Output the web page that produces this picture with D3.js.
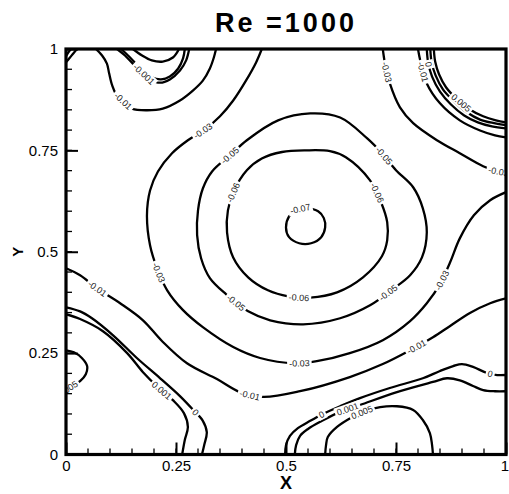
<!DOCTYPE html>
<html><head><meta charset="utf-8">
<script src="https://cdn.jsdelivr.net/npm/d3@7"></script>
<style>
html,body{margin:0;padding:0;background:#fff;}
svg{display:block;font-family:"Liberation Sans", Arial, Helvetica, sans-serif;}
</style></head><body>
<svg id="chart" width="509" height="494"></svg>
<script>
// Stream-function isolines, Re = 1000. Each line is a list of [x, y] points in domain units.
const psiM070 = [[0.543,0.607],[0.573,0.600],[0.586,0.583],[0.589,0.560],[0.580,0.536],[0.557,0.521],[0.530,0.521],[0.507,0.536],[0.500,0.560],[0.507,0.587],[0.523,0.602]];
const psiM060 = [[0.545,0.750],[0.600,0.748],[0.636,0.733],[0.691,0.676],[0.716,0.622],[0.730,0.573],[0.730,0.528],[0.718,0.489],[0.675,0.437],[0.616,0.400],[0.555,0.387],[0.505,0.390],[0.459,0.405],[0.414,0.437],[0.380,0.486],[0.366,0.548],[0.368,0.602],[0.382,0.651],[0.411,0.701],[0.445,0.730],[0.491,0.746]];
const psiM050 = [[0.555,0.841],[0.623,0.831],[0.684,0.780],[0.718,0.743],[0.750,0.701],[0.789,0.659],[0.811,0.607],[0.820,0.548],[0.809,0.486],[0.782,0.442],[0.743,0.408],[0.691,0.368],[0.623,0.336],[0.539,0.321],[0.464,0.331],[0.414,0.353],[0.364,0.395],[0.327,0.435],[0.307,0.484],[0.298,0.541],[0.300,0.602],[0.311,0.656],[0.332,0.698],[0.373,0.738],[0.411,0.775],[0.482,0.824]];
const psiM030a = [[0.445,1.000],[0.432,0.967],[0.409,0.922],[0.380,0.873],[0.350,0.834],[0.316,0.802],[0.277,0.775],[0.241,0.743],[0.209,0.698],[0.191,0.651],[0.184,0.590],[0.191,0.516],[0.207,0.459],[0.230,0.405],[0.266,0.356],[0.311,0.314],[0.380,0.265],[0.441,0.238],[0.520,0.225],[0.570,0.230],[0.645,0.250],[0.720,0.282],[0.782,0.329],[0.820,0.373],[0.850,0.420],[0.873,0.474],[0.895,0.533],[0.927,0.590],[0.964,0.627],[1.000,0.647]];
const psiM030b = [[0.720,1.000],[0.725,0.964],[0.736,0.915],[0.759,0.856],[0.789,0.817],[0.843,0.775],[0.895,0.743],[0.948,0.711],[0.982,0.698],[1.000,0.696]];
const psiM010a = [[0.068,1.000],[0.082,0.984],[0.093,0.964],[0.098,0.940],[0.105,0.910],[0.114,0.888],[0.130,0.871],[0.150,0.853],[0.184,0.849],[0.220,0.853],[0.259,0.873],[0.289,0.898],[0.311,0.922],[0.327,0.952],[0.336,0.979],[0.341,1.000]];
const psiM010b = [[0.800,1.000],[0.805,0.972],[0.820,0.915],[0.850,0.866],[0.895,0.824],[0.941,0.799],[0.975,0.787],[1.000,0.782]];
const psiM010c = [[0.000,0.459],[0.032,0.442],[0.070,0.410],[0.123,0.373],[0.175,0.331],[0.218,0.280],[0.275,0.225],[0.343,0.186],[0.395,0.154],[0.448,0.142],[0.532,0.156],[0.645,0.191],[0.720,0.223],[0.782,0.257],[0.834,0.289],[0.873,0.317],[0.918,0.349],[0.964,0.373],[1.000,0.385]];
const psiM001a = [[0.116,1.000],[0.134,0.984],[0.152,0.964],[0.173,0.942],[0.191,0.925],[0.214,0.917],[0.236,0.925],[0.259,0.947],[0.273,0.972],[0.280,1.000]];
const psiZ000a = [[0.125,1.000],[0.141,0.984],[0.159,0.964],[0.177,0.945],[0.195,0.930],[0.216,0.925],[0.236,0.932],[0.255,0.952],[0.266,0.977],[0.270,1.000]];
const psiP001a = [[0.152,1.000],[0.173,0.984],[0.195,0.972],[0.220,0.969],[0.243,0.979],[0.257,1.000]];
const psiP001b = [[0.000,0.967],[0.009,0.979],[0.018,0.991],[0.025,1.000]];
const psiP005a = [[0.000,0.982],[0.005,0.991],[0.011,1.000]];
const psiZ000b = [[0.000,0.363],[0.032,0.353],[0.059,0.336],[0.107,0.294],[0.161,0.238],[0.214,0.188],[0.259,0.144],[0.289,0.110],[0.311,0.083],[0.320,0.055],[0.314,0.023],[0.309,0.000]];
const psiP001c = [[0.000,0.346],[0.032,0.334],[0.084,0.304],[0.139,0.250],[0.175,0.203],[0.209,0.166],[0.243,0.134],[0.268,0.102],[0.277,0.068],[0.270,0.036],[0.264,0.000]];
const psiP005b = [[0.000,0.257],[0.018,0.252],[0.036,0.238],[0.048,0.218],[0.045,0.198],[0.032,0.181],[0.014,0.169],[0.000,0.159]];
const psiZ000c = [[0.498,0.000],[0.500,0.023],[0.509,0.046],[0.527,0.065],[0.555,0.083],[0.584,0.100],[0.623,0.119],[0.668,0.139],[0.736,0.164],[0.811,0.188],[0.850,0.206],[0.880,0.218],[0.900,0.223],[0.925,0.216],[0.957,0.201],[0.980,0.196],[1.000,0.196]];
const psiP001d = [[0.520,0.000],[0.523,0.023],[0.532,0.046],[0.550,0.063],[0.582,0.083],[0.623,0.105],[0.668,0.122],[0.752,0.154],[0.834,0.179],[0.866,0.188],[0.895,0.183],[0.925,0.169],[0.948,0.159],[0.975,0.156],[1.000,0.156]];
const psiP005c = [[0.589,0.000],[0.591,0.023],[0.595,0.043],[0.616,0.068],[0.650,0.092],[0.680,0.107],[0.714,0.117],[0.752,0.119],[0.789,0.110],[0.811,0.085],[0.827,0.053],[0.832,0.023],[0.834,0.000]];
const psiZ000d = [[0.820,1.000],[0.823,0.967],[0.832,0.932],[0.850,0.895],[0.875,0.863],[0.905,0.836],[0.936,0.819],[0.968,0.809],[1.000,0.804]];
const psiP001e = [[0.828,1.000],[0.831,0.967],[0.840,0.935],[0.857,0.900],[0.882,0.871],[0.911,0.844],[0.941,0.826],[0.973,0.817],[1.000,0.812]];
const psiP005d = [[0.836,1.000],[0.839,0.969],[0.848,0.937],[0.864,0.905],[0.889,0.876],[0.918,0.851],[0.948,0.834],[0.977,0.824],[1.000,0.819]];

// [key, level, points, closed]
const isolines = [
  ["m070a", -0.07, psiM070, true],
  ["m060a", -0.06, psiM060, true],
  ["m050a", -0.05, psiM050, true],
  ["m030a", -0.03, psiM030a, false],
  ["m030b", -0.03, psiM030b, false],
  ["m010a", -0.01, psiM010a, false],
  ["m010b", -0.01, psiM010b, false],
  ["m010c", -0.01, psiM010c, false],
  ["m001a", -0.001, psiM001a, false],
  ["z000a", 0, psiZ000a, false],
  ["p001a", 0.001, psiP001a, false],
  ["p001b", 0.001, psiP001b, false],
  ["p005a", 0.005, psiP005a, false],
  ["z000b", 0, psiZ000b, false],
  ["p001c", 0.001, psiP001c, false],
  ["p005b", 0.005, psiP005b, false],
  ["z000c", 0, psiZ000c, false],
  ["p001d", 0.001, psiP001d, false],
  ["p005c", 0.005, psiP005c, false],
  ["z000d", 0, psiZ000d, false],
  ["p001e", 0.001, psiP001e, false],
  ["p005d", 0.005, psiP005d, false]
];

// Isoline labels: [isoline key, x, y] near where each label sits
const isoLabels = [
  ["m070a", 0.532, 0.607],
  ["m060a", 0.386, 0.644], ["m060a", 0.705, 0.644], ["m060a", 0.530, 0.388],
  ["m050a", 0.375, 0.735], ["m050a", 0.720, 0.735], ["m050a", 0.386, 0.373], ["m050a", 0.730, 0.403],
  ["m030a", 0.311, 0.799], ["m030a", 0.214, 0.450], ["m030a", 0.530, 0.228], ["m030a", 0.859, 0.427],
  ["m030b", 0.727, 0.942], ["m030b", 0.984, 0.701],
  ["m010a", 0.130, 0.871], ["m010b", 0.807, 0.942], ["m010c", 0.070, 0.408], ["m010c", 0.418, 0.147], ["m010c", 0.802, 0.255],
  ["m001a", 0.182, 0.942],
  ["z000b", 0.293, 0.102], ["p001c", 0.220, 0.161], ["p005b", 0.004, 0.161],
  ["z000c", 0.582, 0.097], ["p001d", 0.639, 0.115], ["z000c", 0.964, 0.198], ["p005c", 0.673, 0.102],
  ["z000d", 0.825, 0.962], ["p005d", 0.895, 0.863]
];

const xTicks = [0, 0.25, 0.5, 0.75, 1];
const yTicks = [0, 0.25, 0.5, 0.75, 1];
const minorTicks = d3.range(0, 1.0001, 0.05);
const titleText = "Re =1000";
const xTitle = "X", yTitle = "Y";

(function draw() {
  const frameL = 66, frameR = 506, frameT = 49, frameB = 454.5;
  const svg = d3.select("#chart");
  const x = d3.scaleLinear().domain([0, 1]).range([frameL, frameR]);
  const y = d3.scaleLinear().domain([0, 1]).range([frameB, frameT]);

  svg.append("defs").append("clipPath").attr("id", "plotClip")
    .append("rect").attr("x", frameL).attr("y", frameT).attr("width", frameR - frameL).attr("height", frameB - frameT);

  const plot = svg.append("g").attr("clip-path", "url(#plotClip)");

  const openLine = d3.line().x(d => x(d[0])).y(d => y(d[1])).curve(d3.curveCatmullRom.alpha(0.5));
  const closedLine = d3.line().x(d => x(d[0])).y(d => y(d[1])).curve(d3.curveCatmullRomClosed.alpha(0.5));

  const pathByKey = {};
  isolines.forEach(([key, level, pts, closed]) => {
    const p = plot.append("path")
      .attr("d", (closed ? closedLine : openLine)(pts))
      .attr("fill", "none").attr("stroke", "#000").attr("stroke-width", 2.3)
      .attr("stroke-linejoin", "round").attr("stroke-linecap", "butt");
    pathByKey[key] = { node: p.node(), level };
  });

  // labels sit on the nearest point of their isoline, turned with the line
  const fmt = v => String(v);
  const labelLayer = svg.append("g").attr("clip-path", "url(#plotClip)");
  isoLabels.forEach(([key, lx, ly]) => {
    const { node, level } = pathByKey[key];
    const px = x(lx), py = y(ly);
    const L = node.getTotalLength();
    let best = 0, bd = Infinity;
    for (let s = 0; s <= L; s += 0.5) {
      const p = node.getPointAtLength(s);
      const d = (p.x - px) ** 2 + (p.y - py) ** 2;
      if (d < bd) { bd = d; best = s; }
    }
    const p = node.getPointAtLength(best);
    const p0 = node.getPointAtLength(Math.max(0, best - 5));
    const p1 = node.getPointAtLength(Math.min(L, best + 5));
    let a = Math.atan2(p1.y - p0.y, p1.x - p0.x) * 180 / Math.PI;
    if (a > 90) a -= 180;
    if (a < -90) a += 180;
    const g = labelLayer.append("g").attr("transform", `translate(${p.x},${p.y}) rotate(${a})`);
    const t = g.append("text").attr("text-anchor", "middle").attr("dy", "0.35em")
      .attr("font-size", 9).attr("fill", "#222").text(fmt(level));
    const w = t.node().getComputedTextLength();
    g.insert("rect", "text").attr("x", -w / 2 - 2).attr("y", -5).attr("width", w + 4).attr("height", 10).attr("fill", "#fff");
  });

  // minor ticks, pointing inward on the left and bottom edges
  const tickG = svg.append("g");
  tickG.selectAll("line.ym").data(minorTicks).join("line")
    .attr("x1", frameL).attr("x2", frameL + 6).attr("y1", d => y(d)).attr("y2", d => y(d))
    .attr("stroke", "#000").attr("stroke-width", 1.3);
  tickG.selectAll("line.xm").data(minorTicks).join("line")
    .attr("y1", frameB).attr("y2", frameB - 6).attr("x1", d => x(d)).attr("x2", d => x(d))
    .attr("stroke", "#000").attr("stroke-width", 1.3);

  const yAxis = d3.axisLeft(y).tickValues(yTicks).tickFormat(fmt).tickSizeInner(-12).tickSizeOuter(0).tickPadding(8);
  const xAxis = d3.axisBottom(x).tickValues(xTicks).tickFormat(fmt).tickSizeInner(-12).tickSizeOuter(0).tickPadding(6);
  const gy = svg.append("g").attr("transform", `translate(${frameL},0)`).call(yAxis);
  const gx = svg.append("g").attr("transform", `translate(0,${frameB})`).call(xAxis);
  [gx, gy].forEach(g => {
    g.select(".domain").remove();
    g.selectAll(".tick line").attr("stroke", "#000").attr("stroke-width", 2);
    g.selectAll(".tick text").attr("font-size", 15).attr("fill", "#000")
      .attr("font-family", "'Liberation Sans', Arial, sans-serif");
  });
  // keep the last bottom label inside the page edge
  gx.selectAll(".tick text").filter(d => d === 1).attr("dx", -1.5);

  svg.append("rect").attr("x", frameL).attr("y", frameT).attr("width", frameR - frameL).attr("height", frameB - frameT)
    .attr("fill", "none").attr("stroke", "#000").attr("stroke-width", 3.2);

  svg.append("text").attr("x", (frameL + frameR) / 2).attr("y", 32).attr("text-anchor", "middle")
    .attr("font-size", 27).attr("font-weight", "bold").attr("letter-spacing", "3px").text(titleText);
  svg.append("text").attr("x", (frameL + frameR) / 2).attr("y", 489).attr("text-anchor", "middle")
    .attr("font-size", 18).attr("font-weight", "bold").text(xTitle);
  svg.append("text").attr("transform", `translate(23,${y(0.5)}) rotate(-90)`).attr("text-anchor", "middle")
    .attr("font-size", 15).attr("font-weight", "bold").text(yTitle);
})();
</script>
</body></html>
